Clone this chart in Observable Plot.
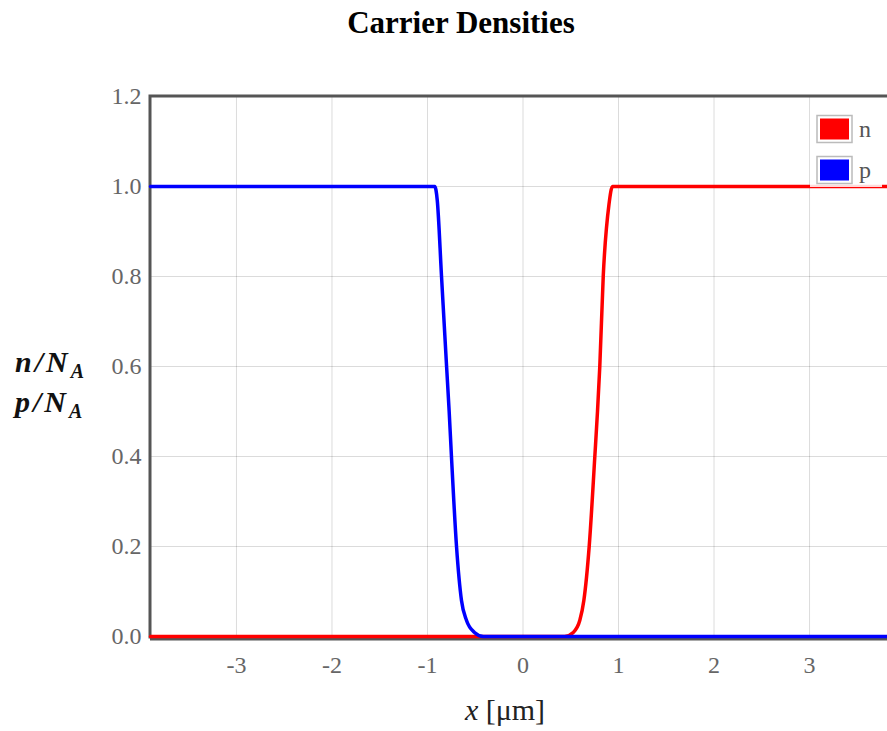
<!DOCTYPE html>
<html><head><meta charset="utf-8">
<script src="https://cdn.jsdelivr.net/npm/d3@7"></script>
<script src="https://cdn.jsdelivr.net/npm/@observablehq/plot@0.6"></script>
<style>
html,body{margin:0;padding:0;background:#fff;overflow:hidden;width:887px;height:731px;}
#wrap{position:relative;width:887px;height:731px;overflow:hidden;}
#title{position:absolute;left:0;top:5px;width:922px;text-align:center;font:bold 31px "Liberation Serif",serif;color:#000;}
#chart{position:absolute;left:0;top:0;width:900px;}
#chart svg{max-width:none !important;}
</style></head><body>
<div id="wrap"><div id="chart"></div><div id="title">Carrier Densities</div></div>
<script>
const xDomain = [-3.9, 3.9];
const yDomain = [0, 1.2];
const xTicks = [-3, -2, -1, 0, 1, 2, 3];
const yTicks = [0, 0.2, 0.4, 0.6, 0.8, 1.0, 1.2];
const seriesNames = ["n", "p"];
const seriesColors = ["#ff0000", "#0000ff"];

// n / N_A
const nX = [-3.9, 0.435, 0.526, 0.595, 0.637, 0.693, 0.752, 0.780, 0.804, 0.840, 0.900, 0.937, 3.9];
const nY = [0, 0, 0.009, 0.036, 0.08, 0.2, 0.4, 0.5, 0.6, 0.8, 0.96, 1, 1];
// p / N_A
const pX = [-3.9, -0.924, -0.898, -0.853, -0.800, -0.773, -0.749, -0.696, -0.644, -0.592, -0.508, -0.414, 3.9];
const pY = [1, 1, 0.97, 0.8, 0.6, 0.5, 0.4, 0.2, 0.08, 0.036, 0.009, 0, 0];

const nData = nX.map((x, i) => ({x, y: nY[i]}));
const pData = pX.map((x, i) => ({x, y: pY[i]}));

const chart = Plot.plot({
  width: 900, height: 731,
  marginLeft: 150, marginRight: 5, marginTop: 96, marginBottom: 95,
  style: {fontFamily: "'Liberation Serif', serif", fontSize: "24px", background: "transparent", maxWidth: "none"},
  x: {domain: xDomain, label: null},
  y: {domain: yDomain, label: null},
  marks: [
    Plot.gridX(xTicks, {stroke: "#000", strokeOpacity: 0.14, strokeWidth: 1}),
    Plot.gridY(yTicks, {stroke: "#000", strokeOpacity: 0.14, strokeWidth: 1}),
    Plot.frame({stroke: "#555", strokeWidth: 3, inset: -0.5}),
    Plot.ruleY([0], {stroke: "#555", strokeWidth: 3, dy: 2.5}),
    Plot.axisX(xTicks, {tickSize: 0, tickPadding: 19, tickFormat: d => String(d), fill: "#666", fontSize: 24}),
    Plot.axisY(yTicks, {tickSize: 0, tickPadding: 9, tickFormat: d => d.toFixed(1), fill: "#666", fontSize: 24}),
    Plot.line(nData, {x: "x", y: "y", stroke: seriesColors[0], strokeWidth: 3.5, curve: "monotone-x"}),
    Plot.line(pData, {x: "x", y: "y", stroke: seriesColors[1], strokeWidth: 3.5, curve: "monotone-x"})
  ]
});
document.getElementById("chart").appendChild(chart);

const svg = d3.select(chart);
// legend
const lg = svg.append("g").attr("text-anchor", "start");
lg.append("rect").attr("x", 810).attr("y", 104).attr("width", 72).attr("height", 83)
  .attr("fill", "#fff").attr("fill-opacity", 0.85);
seriesNames.forEach((name, i) => {
  const y0 = 115.5 + i * 41;
  lg.append("rect").attr("x", 817).attr("y", y0).attr("width", 35).attr("height", 27)
    .attr("fill", "#fff").attr("stroke", "#bbb").attr("stroke-width", 1.5);
  lg.append("rect").attr("x", 820).attr("y", y0 + 3).attr("width", 29).attr("height", 21)
    .attr("fill", seriesColors[i]);
  lg.append("text").attr("x", 859).attr("y", y0 + 21).text(name)
    .attr("font-family", "'Liberation Serif', serif").attr("font-size", 24).attr("fill", "#555");
});
// y label
const yl = svg.append("g").attr("text-anchor", "start").attr("font-family", "'Liberation Serif', serif")
  .attr("font-weight", "bold").attr("font-style", "italic").attr("fill", "#111");
[["n", 372], ["p", 412]].forEach(([v, by]) => {
  const t = yl.append("text").attr("x", 15).attr("y", by).attr("font-size", 30).attr("letter-spacing", 3);
  t.append("tspan").text(v + "/N");
  t.append("tspan").attr("font-size", 20).attr("dy", 6).attr("letter-spacing", 0).text("A");
});
// x label
const xl = svg.append("text").attr("x", 505).attr("y", 720).attr("text-anchor", "middle")
  .attr("font-family", "'Liberation Serif', serif").attr("font-size", 30).attr("fill", "#222");
xl.append("tspan").attr("font-style", "italic").text("x");
xl.append("tspan").text(" [μm]");
</script>
</body></html>
